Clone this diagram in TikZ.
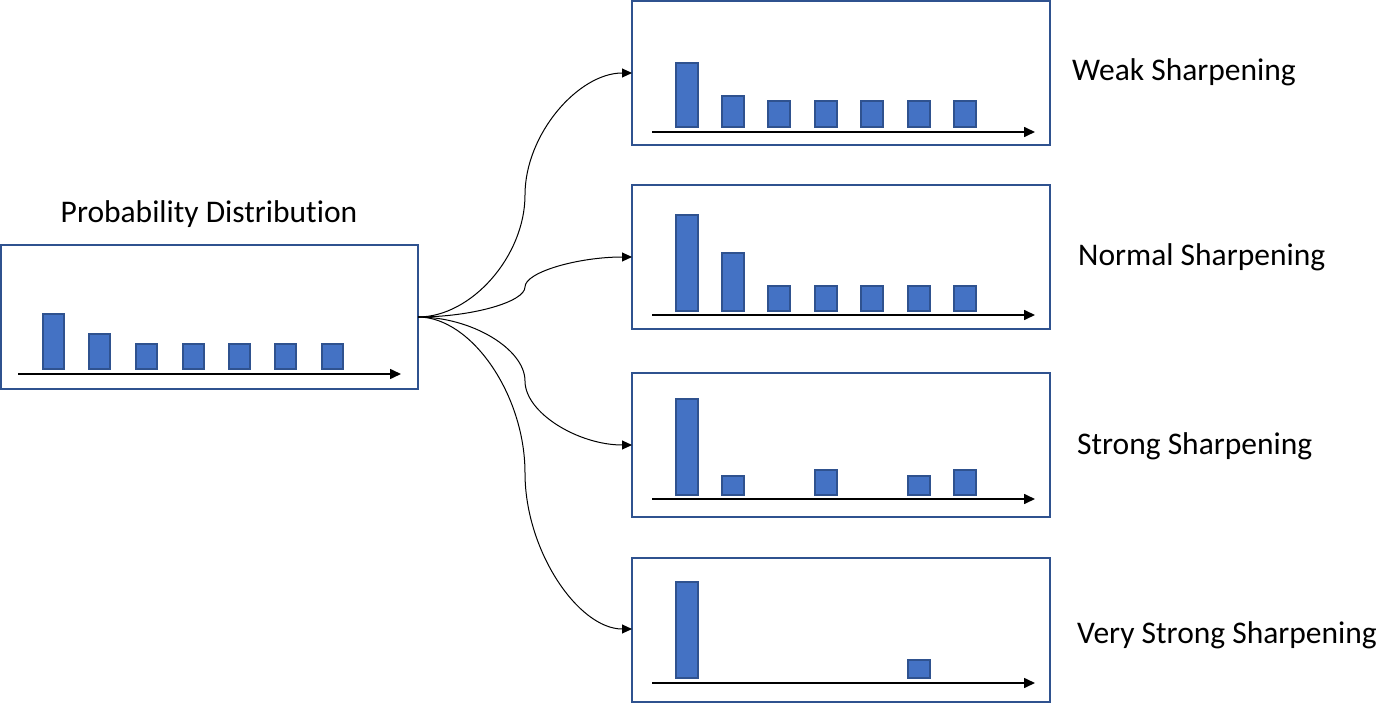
\documentclass[tikz,border=0pt]{standalone}
\usepackage{fontspec}
\setmainfont[Ligatures=NoCommon]{Carlito}
\usetikzlibrary{arrows.meta}
\definecolor{barfill}{HTML}{4472C4}
\definecolor{barline}{HTML}{2F528F}
\begin{document}
\begin{tikzpicture}[x=1pt,y=-1pt,
  panel/.style={draw=barline,line width=2pt,fill=white},
  bar/.style={fill=barfill,draw=barline,line width=1.2pt},
  axis/.style={line width=1.6pt,-{Triangle[length=11pt,width=10pt]}},
  link/.style={line width=1pt,-{Triangle[length=10pt,width=9pt]}},
  lbl/.style={font=\fontsize{31.5}{36}\selectfont,inner sep=0pt}]
\useasboundingbox (0,0) rectangle (1400,703);
% left panel
\draw[panel] (1,245) rectangle (418,389);
\coordinate (src) at (418,317);
\draw[axis] (18,374) -- (401,374);
\foreach \x/\t in {43/314,89/334,136/344,183/344,229/344,275/344,322/344}
  \draw[bar] (\x,369) rectangle ++(21,\t-369);
\node[lbl] (title) at (209,214) {Probability Distribution};
% right panels
\foreach \y [count=\i] in {1,185,373,558}{
  \draw[panel] (632,\y) rectangle (1050,\y+144);
}
% panel 1
\draw[axis] (652,132) -- (1035,132);
\foreach \x/\t in {676/63,722/96,768/101,815/101,861/101,908/101,954/101}
  \draw[bar] (\x,127) rectangle ++(22,\t-127);
% panel 2
\draw[axis] (652,315) -- (1035,315);
\foreach \x/\t in {676/215,722/253,768/286,815/286,861/286,908/286,954/286}
  \draw[bar] (\x,311) rectangle ++(22,\t-311);
% panel 3
\draw[axis] (652,499) -- (1035,499);
\foreach \x/\t in {676/399,722/476,815/470,908/476,954/470}
  \draw[bar] (\x,495) rectangle ++(22,\t-495);
% panel 4
\draw[axis] (652,683) -- (1035,683);
\foreach \x/\t in {676/582,908/660}
  \draw[bar] (\x,678) rectangle ++(22,\t-678);
% targets
\coordinate (t1) at (632,73);
\coordinate (t2) at (632,257);
\coordinate (t3) at (632,445);
\coordinate (t4) at (632,629);
\draw[link] (src) .. controls (471.5,317) and (525,256) .. (525,195)
                  .. controls (525,134) and (578.5,73) .. (t1);
\draw[link] (src) .. controls (471.5,317) and (525,302) .. (525,287)
                  .. controls (525,272) and (578.5,257) .. (t2);
\draw[link] (src) .. controls (471.5,317) and (525,349) .. (525,381)
                  .. controls (525,413) and (578.5,445) .. (t3);
\draw[link] (src) .. controls (471.5,317) and (525,395) .. (525,473)
                  .. controls (525,551) and (578.5,629) .. (t4);
% labels
\node[lbl,anchor=west] (l1) at (1072,72) {Weak Sharpening};
\node[lbl,anchor=west] (l2) at (1078,257) {Normal Sharpening};
\node[lbl,anchor=west] (l3) at (1077,446) {Strong Sharpening};
\node[lbl,anchor=west] (l4) at (1077,635) {Very Strong Sharpening};
\end{tikzpicture}
\end{document}
